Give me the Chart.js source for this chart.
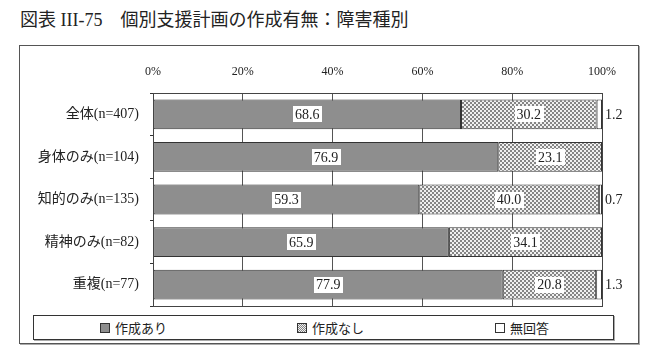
<!DOCTYPE html>
<html><head><meta charset="utf-8">
<script src="https://cdn.jsdelivr.net/npm/chart.js@4"></script>
<style>
html,body{margin:0;padding:0;background:#fff;}
#wrap{position:relative;width:655px;height:355px;overflow:hidden;font-family:"Liberation Serif","Noto Sans CJK JP",serif;color:#222;}
#title{position:absolute;left:20px;top:9px;font-size:18px;white-space:pre;line-height:22px;}
#frame{position:absolute;left:19px;top:45px;width:618px;height:297px;border:1px solid #555;box-shadow:1px 1px 0 #aaa;}
#legend{position:absolute;left:33px;top:315px;width:579px;height:23px;border:1px solid #333;box-shadow:1px 1px 0 #aaa;}
.li{position:absolute;top:0;height:23px;line-height:23px;font-size:13px;font-family:"Noto Sans CJK JP",sans-serif;color:#222;white-space:nowrap;}
.sw{display:inline-block;width:8px;height:8px;border:1px solid #333;vertical-align:middle;margin-right:5px;position:relative;top:-1px;}
canvas{position:absolute;left:0;top:0;}
</style></head>
<body>
<div id="wrap">
<div id="title">図表 III-75　個別支援計画の作成有無：障害種別</div>
<div id="frame"></div>
<div id="legend"></div>
<canvas id="c" width="655" height="355"></canvas>
</div>
<script>
const categories = ['全体(n=407)', '身体のみ(n=104)', '知的のみ(n=135)', '精神のみ(n=82)', '重複(n=77)'];
const seriesNames = ['作成あり', '作成なし', '無回答'];
const madeYes = [68.6, 76.9, 59.3, 65.9, 77.9];
const madeNo = [30.2, 23.1, 40.0, 34.1, 20.8];
const noAnswer = [1.2, 0, 0.7, 0, 1.3];
const tickLabels = ['0%', '20%', '40%', '60%', '80%', '100%'];

// checker (hatch) pattern
const pc = document.createElement('canvas');
pc.width = 4; pc.height = 4;
const px = pc.getContext('2d');
px.fillStyle = '#f0f0f0'; px.fillRect(0,0,4,4);
px.fillStyle = '#858585'; px.fillRect(0,0,2,2); px.fillRect(2,2,2,2);
const hatch = px.createPattern(pc, 'repeat');

const fills = ['#8e8e8e', hatch, '#ffffff'];

// HTML legend
const legendPos = [66, 263, 461];
const swatchCss = ['background:#8e8e8e', 'background:repeating-conic-gradient(#858585 0 25%, #f0f0f0 0 50%) 0 0/2px 2px', 'background:#fff'];
const lg = document.getElementById('legend');
seriesNames.forEach((n, i) => {
  const d = document.createElement('div');
  d.className = 'li';
  d.style.left = legendPos[i] + 'px';
  d.innerHTML = '<span class="sw" style="' + swatchCss[i] + '"></span>';
  d.appendChild(document.createTextNode(n));
  lg.appendChild(d);
});

const FONT = '"Liberation Serif","Noto Sans CJK JP",serif';

const labelPlugin = {
  id: 'labels',
  afterDraw(chart) {
    const ctx = chart.ctx;
    const a = chart.chartArea;
    ctx.save();
    ctx.strokeStyle = '#444';
    ctx.lineWidth = 1;
    ctx.strokeRect(Math.round(a.left) + 0.5, Math.round(a.top) + 0.5, Math.round(a.right - a.left), Math.round(a.bottom - a.top));
    ctx.font = '14px ' + FONT;
    ctx.textBaseline = 'middle';
    chart.data.datasets.forEach((ds, di) => {
      const meta = chart.getDatasetMeta(di);
      meta.data.forEach((bar, i) => {
        const v = ds.data[i];
        if (!v) return;
        const t = v.toFixed(1);
        if (di < 2) {
          const cx = (bar.x + bar.base) / 2;
          const w = ctx.measureText(t).width;
          ctx.fillStyle = '#fff';
          ctx.fillRect(Math.round(cx - w / 2 - 2), Math.round(bar.y - 8), Math.round(w + 4), 16);
          ctx.fillStyle = '#222';
          ctx.textAlign = 'center';
          ctx.fillText(t, cx, bar.y + 1);
        } else {
          ctx.fillStyle = '#222';
          ctx.textAlign = 'left';
          ctx.fillText(t, a.right + 3, bar.y + 1);
        }
      });
    });
    ctx.restore();
  }
};

new Chart(document.getElementById('c'), {
  type: 'bar',
  data: {
    labels: categories,
    datasets: [madeYes, madeNo, noAnswer].map((d, i) => ({
      label: seriesNames[i],
      data: d,
      backgroundColor: fills[i],
      borderColor: '#333',
      borderWidth: 1,
      borderSkipped: false,
      barPercentage: 0.7,
      categoryPercentage: 1.0
    }))
  },
  options: {
    indexAxis: 'y',
    responsive: false,
    animation: false,
    events: [],
    layout: { padding: { left: 0, right: 53, top: 50, bottom: 49 } },
    plugins: { legend: { display: false }, tooltip: { enabled: false }, title: { display: false } },
    scales: {
      x: {
        position: 'top',
        stacked: true,
        min: 0, max: 100,
        afterFit(s) { s.height = 43; },
        afterBuildTicks(s) { s.ticks = tickLabels.map((_, i) => ({ value: i * 20 })); },
        ticks: {
          padding: 14,
          color: '#222',
          font: { family: FONT, size: 12 },
          callback: (v, i) => tickLabels[i]
        },
        grid: { color: '#555', drawTicks: false, lineWidth: 1 },
        border: { display: false }
      },
      y: {
        stacked: true,
        afterFit(s) { s.width = 153; },
        ticks: { padding: 11, color: '#222', font: { family: FONT, size: 14 } },
        grid: { drawOnChartArea: false, drawTicks: true, tickLength: 3, color: '#333', offset: true },
        border: { display: true, color: '#333' }
      }
    }
  },
  plugins: [labelPlugin]
});
</script>
</body></html>
